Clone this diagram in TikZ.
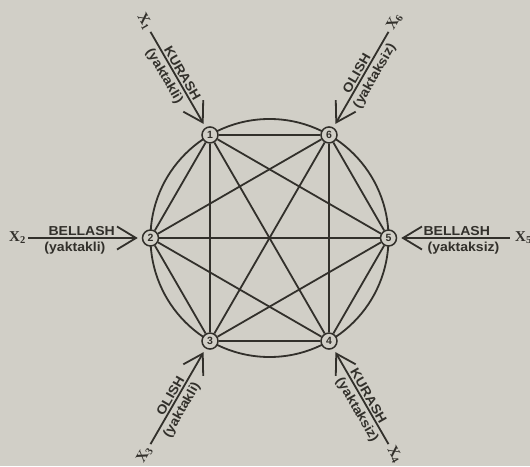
\documentclass[tikz,border=0pt]{standalone}
\usepackage{fontspec}
\setmainfont{Liberation Serif}
\setsansfont{Liberation Sans}
\newfontfamily\labelfont{Liberation Sans}[FakeStretch=1.08]
\usetikzlibrary{arrows.meta}
\definecolor{mydark}{RGB}{50,48,43}
\definecolor{mypaper}{RGB}{209,207,199}
\tikzset{
  vnode/.style={circle, draw=mydark, fill=mypaper, text=mydark,
    minimum size=16pt, inner sep=0pt,
    font=\sffamily\bfseries\fontsize{10.5}{11}\selectfont,
    line width=1.5pt},
  chord/.style={line width=1.8pt, color=mydark},
  inarrow/.style={-{Straight Barb[length=19pt,width=23pt]}, line width=1.8pt,
    color=mydark, shorten >=4pt},
  toplabel/.style={pos=0.47, sloped, above, inner sep=1.5pt, text=mydark,
    font=\labelfont\bfseries\fontsize{13}{14}\selectfont},
  botlabel/.style={pos=0.41, sloped, below, inner sep=3.5pt, text=mydark,
    font=\labelfont\bfseries\fontsize{13}{14}\selectfont},
  xname/.style={text=mydark, inner sep=0pt,
    font=\bfseries\fontsize{15}{16}\selectfont}
}

\begin{document}
\begin{tikzpicture}[x=1pt, y=1pt]
  % Paper
  \fill[mypaper] (-269.5,-228) rectangle (260.5,238);
  \useasboundingbox (-269.5,-228) rectangle (260.5,238);

  % Big circle
  \draw[chord] (0,0) circle (119);

  % Vertices
  \node[vnode] (n1) at (120:119) {1};
  \node[vnode] (n2) at (180:119) {2};
  \node[vnode] (n3) at (240:119) {3};
  \node[vnode] (n4) at (300:119) {4};
  \node[vnode] (n5) at (0:119)   {5};
  \node[vnode] (n6) at (60:119)  {6};

  % All pairs
  \draw[chord] (n1) -- (n6) (n1) -- (n2) (n1) -- (n3) (n1) -- (n4) (n1) -- (n5);
  \draw[chord] (n6) -- (n2) (n6) -- (n3) (n6) -- (n4) (n6) -- (n5);
  \draw[chord] (n2) -- (n5) (n2) -- (n3) (n2) -- (n4);
  \draw[chord] (n3) -- (n4) (n3) -- (n5) (n4) -- (n5);

  % Inputs
  \coordinate (s1) at (120:238);
  \coordinate (s2) at (180:241);
  \coordinate (s3) at (240:238);
  \coordinate (s4) at (300:238);
  \coordinate (s5) at (0:240);
  \coordinate (s6) at (60:238);

  \node[xname, rotate=-60] (x1) at (120:250) {X\textsubscript{1}};
  \node[xname] (x2) at (180:252) {X\textsubscript{2}};
  \node[xname, rotate=60] (x3) at (240:250) {X\textsubscript{3}};
  \node[xname, rotate=-60] (x4) at (300:250) {X\textsubscript{4}};
  \node[xname] (x5) at (0:254) {X\textsubscript{5}};
  \node[xname, rotate=60] (x6) at (60:250) {X\textsubscript{6}};

  \draw[inarrow] (s1) -- (n1) node[toplabel] {KURASH} node[botlabel] {(yaktakli)};
  \draw[inarrow] (s2) -- (n2) node[toplabel] {BELLASH} node[botlabel] {(yaktakli)};
  \draw[inarrow] (s3) -- (n3) node[toplabel] {OLISH} node[botlabel] {(yaktakli)};
  \draw[inarrow] (s4) -- (n4) node[toplabel] {KURASH} node[botlabel] {(yaktaksiz)};
  \draw[inarrow] (s5) -- (n5) node[toplabel] {BELLASH} node[botlabel] {(yaktaksiz)};
  \draw[inarrow] (s6) -- (n6) node[toplabel] {OLISH} node[botlabel] {(yaktaksiz)};
\end{tikzpicture}
\end{document}
